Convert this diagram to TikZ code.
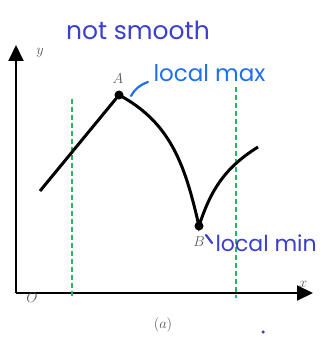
\documentclass[tikz,border=0pt]{standalone}
\usepackage{fontspec}
\newfontfamily\handfont{Poppins}
\usetikzlibrary{arrows.meta}
\definecolor{inkblue}{HTML}{3B3FCF}
\definecolor{penblue}{HTML}{1F6FF2}
\definecolor{guide}{HTML}{22B864}
\tikzset{
  axis/.style={line width=2pt, -{Triangle[width=15pt,length=16pt]}},
  curve/.style={line width=3pt},
  pt/.style={circle, fill, inner sep=0pt, minimum size=9pt},
  guideline/.style={guide, line width=2pt, dash pattern=on 5pt off 3pt},
  hand/.style={font=\handfont\fontsize{#1}{#1}\selectfont},
  lbl/.style={text=black!65, font=\fontsize{14}{14}\selectfont},
}
\begin{document}
\begin{tikzpicture}[x=1pt, y=-1pt]
  \useasboundingbox (0,0) rectangle (324,339);
  % axes
  \coordinate (o) at (16,293);
  \coordinate (xend) at (313,293);
  \coordinate (yend) at (16,45);
  \draw[axis] (o) -- (xend);
  \draw[axis] (o) -- (yend);
  \node (ylbl) [lbl] at (40,53) {$y$};
  \node (xlbl) [lbl] at (303,284) {$x$};
  \node (olbl) [lbl] at (32,298) {$O$};
  % green guides
  \coordinate (g1top) at (72,99);
  \coordinate (g1bot) at (72,296);
  \coordinate (g2top) at (236,87);
  \coordinate (g2bot) at (236,298);
  \draw[guideline] (g1top) -- (g1bot);
  \draw[guideline] (g2top) -- (g2bot);
  % the function
  \node (A) [pt] at (119,95) {};
  \node (B) [pt] at (199,226) {};
  \coordinate (start) at (40,191);
  \coordinate (end) at (258,147);
  \draw[curve] (start) -- (A.center) to[out=-28,in=103] (B.center)
    to[out=72,in=-148] (end);
  \node (Albl) [lbl] at (118,79) {$A$};
  \node (Blbl) [lbl] at (199,242) {$B$};
  % notes
  \node (title) [hand=25, text=inkblue] at (138,30) {not smooth};
  \node (maxnote) [hand=23, text=penblue, anchor=west] at (150,73) {local max};
  \node (minnote) [hand=22, text=inkblue, anchor=west] at (212,243) {local min};
  \coordinate (maxtail) at (131,96);
  \coordinate (maxhead) at (148,82);
  \draw[penblue, line width=2.2pt, line cap=round] (maxtail) to[out=60,in=200] (maxhead);
  \coordinate (mintail) at (206,235);
  \draw[inkblue, line width=2.2pt, line cap=round] (mintail) -- (minnote.west);
  \node (cap) [lbl] at (163,325) {$(a)$};
  \node (dot) [circle, fill=inkblue, inner sep=0pt, minimum size=3.5pt] at (263,332) {};
\end{tikzpicture}
\end{document}
